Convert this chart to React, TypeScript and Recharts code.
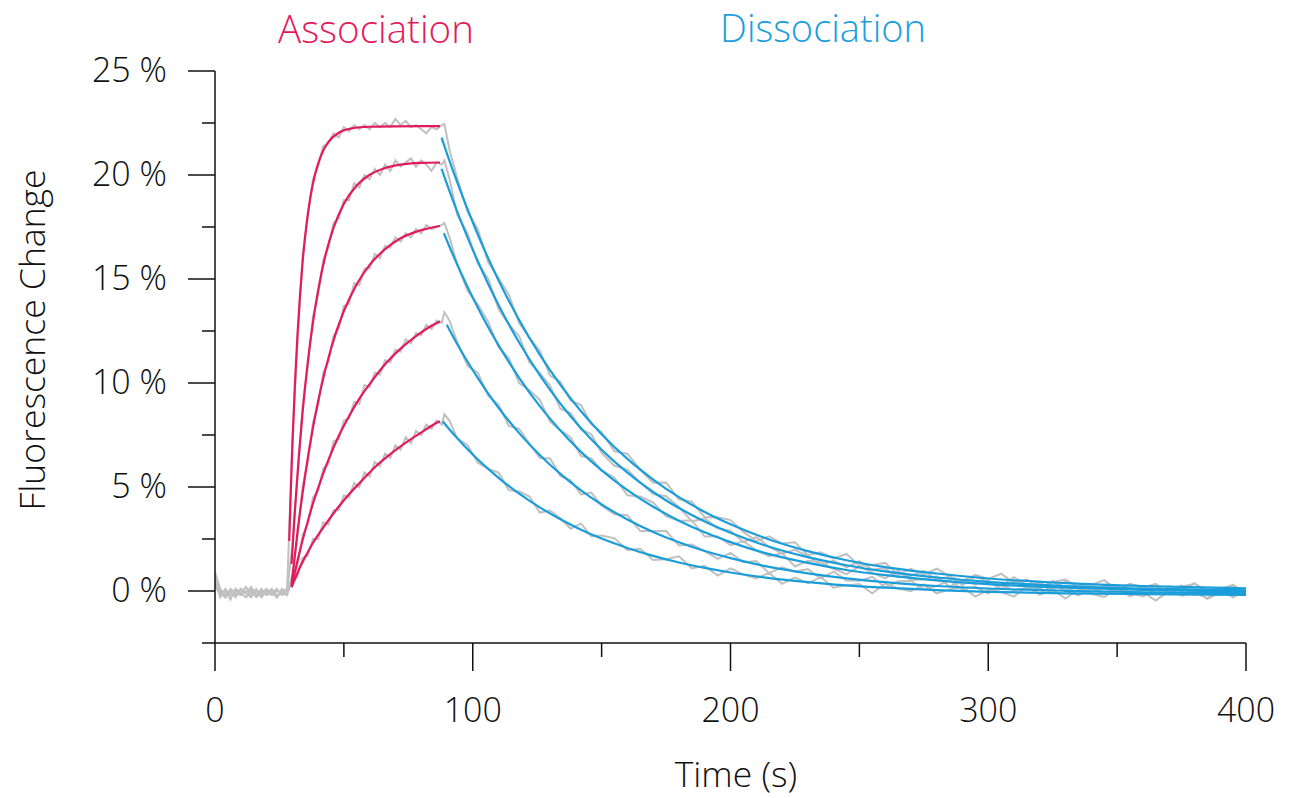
import React from 'react'
import { LineChart, Line, XAxis, YAxis } from 'recharts'

// axis ticks
const xTicks = [0, 50, 100, 150, 200, 250, 300, 350, 400]
const yTicks = [-2.5, 0, 2.5, 5, 7.5, 10, 12.5, 15, 17.5, 20, 22.5, 25]

// fitted association curves [time s, fluorescence %]
const assoc1 = [[28.8, 2.4], [29.4, 4.81], [30, 6.93], [31, 9.92], [32, 12.32], [33, 14.26], [34, 15.83], [35.5, 17.63], [37, 18.93], [39, 20.12], [41, 20.9], [44, 21.59], [48, 22.03], [53, 22.24], [60, 22.32], [70, 22.34], [87.3, 22.35]]
const assoc2 = [[29.7, 1.3], [31, 3.89], [32.5, 6.44], [34, 8.61], [36, 11.0], [38, 12.91], [40, 14.45], [43, 16.21], [46, 17.47], [50, 18.62], [55, 19.5], [60, 20.01], [66, 20.34], [72, 20.5], [80, 20.58], [87.3, 20.6]]
const assoc3 = [[29.7, 0.3], [32, 2.83], [35, 5.59], [38, 7.85], [41, 9.7], [45, 11.65], [50, 13.46], [55, 14.75], [60, 15.68], [66, 16.44], [72, 16.96], [80, 17.35], [87.3, 17.55]]
const assoc4 = [[29.7, 0.2], [32, 1.45], [34, 2.45], [36, 3.35], [38, 4.2], [40, 4.95], [44, 6.3], [48, 7.45], [52, 8.4], [56, 9.25], [60, 9.95], [66, 10.9], [72, 11.65], [78, 12.25], [84, 12.75], [87.3, 12.96]]
const assoc5 = [[29.7, 0.18], [33, 1.15], [35.5, 1.75], [38.1, 2.33], [42, 3.05], [47.2, 3.93], [52, 4.65], [57.5, 5.37], [62, 5.95], [67.9, 6.57], [72, 6.95], [76.9, 7.37], [81, 7.7], [86.6, 8.12], [87.3, 8.16]]

// fitted dissociation curves
const dissoc1 = [[87.9, 21.8], [90, 21.03], [94, 19.64], [98, 18.34], [102, 17.13], [106, 16.0], [110, 14.94], [118, 13.03], [126, 11.36], [134, 9.91], [142, 8.64], [150, 7.54], [160, 6.35], [170, 5.36], [180, 4.51], [190, 3.8], [200, 3.21], [215, 2.48], [230, 1.92], [245, 1.48], [260, 1.15], [280, 0.84], [300, 0.6], [330, 0.38], [360, 0.24], [400, 0.13]]
const dissoc2 = [[87.9, 20.3], [90, 19.56], [94, 18.23], [98, 16.99], [102, 15.84], [106, 14.76], [110, 13.75], [118, 11.95], [126, 10.38], [134, 9.01], [142, 7.82], [150, 6.79], [160, 5.69], [170, 4.76], [180, 3.99], [190, 3.34], [200, 2.8], [215, 2.13], [230, 1.63], [245, 1.24], [260, 0.94], [280, 0.65], [300, 0.44], [330, 0.24], [360, 0.12], [400, 0.03]]
const dissoc3 = [[88.8, 17.2], [90, 16.84], [94, 15.69], [98, 14.62], [102, 13.62], [106, 12.68], [110, 11.82], [118, 10.25], [126, 8.89], [134, 7.72], [142, 6.69], [150, 5.8], [160, 4.85], [170, 4.05], [180, 3.38], [190, 2.82], [200, 2.35], [215, 1.77], [230, 1.35], [245, 1.01], [260, 0.76], [280, 0.51], [300, 0.33], [330, 0.16], [360, 0.05], [400, -0.03]]
const dissoc4 = [[89.9, 12.8], [94, 11.86], [98, 11.02], [102, 10.23], [106, 9.49], [110, 8.81], [118, 7.59], [126, 6.54], [134, 5.63], [142, 4.84], [150, 4.16], [160, 3.44], [170, 2.84], [180, 2.34], [190, 1.92], [200, 1.58], [215, 1.16], [230, 0.85], [245, 0.61], [260, 0.43], [280, 0.24], [300, 0.12], [330, 0.01], [360, -0.06], [400, -0.11]]
const dissoc5 = [[88.4, 8.15], [90, 7.91], [94, 7.34], [98, 6.81], [102, 6.32], [106, 5.87], [110, 5.44], [118, 4.68], [126, 4.02], [134, 3.45], [142, 2.95], [150, 2.52], [160, 2.07], [170, 1.69], [180, 1.37], [190, 1.11], [200, 0.89], [215, 0.62], [230, 0.43], [245, 0.27], [260, 0.16], [280, 0.04], [300, -0.04], [330, -0.11], [360, -0.15], [400, -0.19]]

// raw measured traces (grey), sampled at these times
const rawTimes = [
  0, 2, 4, 6, 8, 10, 12, 14, 16, 18, 20, 22, 24, 26, 28,
  30, 32, 34, 36, 38, 40, 42, 44, 46, 48, 50, 52, 54, 56, 58, 60, 62, 64, 66, 68, 70, 72, 74, 76, 78, 80, 82, 84, 86, 88,
  89, 91, 94, 98, 102, 106, 110, 114, 118, 122, 126, 130, 134, 138, 142, 146, 150,
  155, 160, 165, 170, 175, 180, 185, 190, 195, 200, 205, 210, 215, 220, 225, 230, 235, 240, 245, 250,
  255, 260, 265, 270, 275, 280, 285, 290, 295, 300, 305, 310, 315, 320, 325, 330, 335, 340, 345, 350,
  355, 360, 365, 370, 375, 380, 385, 390, 395, 400,
]
const raw1 = [
  0.9, 0.1, -0.2, 0.0, -0.3, 0.1, -0.1, 0.2, -0.2, 0.0, -0.1, 0.1, -0.3, 0.0, 0.1,
  7.2, 12.0, 16.1, 18.0, 19.8, 20.4, 21.4, 21.5, 22.0, 21.8, 22.3, 22.1, 22.4, 22.2, 22.4, 22.2, 22.5, 22.3, 22.5, 22.3, 22.7, 22.4, 22.6, 22.3, 22.4, 22.2, 22.0, 22.3, 22.2, 22.4,
  22.45, 21.2, 19.84, 18.24, 17.38, 15.8, 15.04, 14.25, 12.88, 12.17, 11.56, 10.36, 10.06, 9.15, 8.94, 8.02, 7.64,
  6.72, 6.6, 5.83, 5.21, 5.22, 4.41, 4.29, 3.55, 3.54, 3.41, 2.84, 2.4, 2.63, 2.28, 2.34, 1.72, 1.86, 1.57, 1.78, 1.21,
  1.25, 1.35, 0.8, 1.07, 0.79, 1.07, 0.7, 0.49, 0.78, 0.58, 0.83, 0.39, 0.55, 0.16, 0.43, 0.55, 0.17, 0.29, 0.52, 0.05,
  0.33, 0.16, 0.34, -0.13, 0.21, 0.35, 0.03, 0.12, 0.26, -0.1,
]
const raw2 = [
  0.5, -0.3, 0.1, -0.2, 0.0, -0.1, 0.2, -0.2, 0.1, -0.3, 0.0, -0.1, 0.1, -0.2, 0.0,
  2.2, 5.4, 8.9, 10.8, 13.2, 14.2, 15.9, 16.5, 17.7, 17.9, 18.8, 18.8, 19.6, 19.4, 20.0, 19.8, 20.3, 20.0, 20.5, 20.2, 20.7, 20.4, 20.6, 20.8, 20.4, 20.7, 20.5, 20.2, 20.6, 20.5,
  20.7, 19.8, 18.08, 17.19, 15.74, 15.01, 13.55, 12.82, 12.25, 10.99, 10.48, 9.87, 8.76, 8.55, 7.77, 7.54, 6.64,
  6.02, 5.84, 5.21, 4.66, 4.56, 4.04, 3.35, 3.49, 3.01, 2.9, 2.36, 2.59, 2.13, 1.8, 1.98, 1.68, 1.24, 1.46, 1.14, 1.43,
  1.03, 1.09, 0.66, 0.73, 0.96, 0.55, 0.69, 0.29, 0.69, 0.44, 0.25, 0.66, 0.28, 0.4, 0.07, 0.49, 0.22, 0.34, -0.13, 0.06,
  0.34, 0.17, -0.14, 0.24, -0.02, 0.37, -0.09, 0.05, 0.3, -0.17,
]
const raw3 = [
  0.3, 0.0, -0.3, 0.1, -0.1, -0.2, 0.0, 0.1, -0.3, -0.1, 0.1, -0.2, 0.0, -0.1, -0.2,
  0.8, 2.6, 5.0, 6.2, 8.1, 8.9, 10.5, 11.0, 12.3, 12.6, 13.7, 13.8, 14.8, 14.7, 15.5, 15.5, 16.2, 16.0, 16.6, 16.5, 17.0, 16.8, 17.2, 17.0, 17.4, 17.2, 17.6, 17.4, 17.5, 17.6,
  17.7, 17.0, 15.69, 14.42, 13.77, 12.93, 11.72, 11.2, 10.0, 9.65, 9.19, 8.14, 7.72, 7.38, 6.49, 6.38, 5.8,
  5.45, 4.6, 4.54, 4.25, 3.6, 3.38, 3.39, 2.62, 2.63, 2.2, 2.39, 1.95, 1.67, 1.82, 1.18, 1.45, 1.38, 1.07, 0.81, 1.17,
  0.89, 0.61, 0.99, 0.52, 0.56, 0.71, 0.21, 0.51, 0.32, 0.48, 0.09, 0.51, 0.23, 0.1, 0.48, 0.01, 0.19, -0.09, 0.24, 0.18,
  -0.19, 0.05, 0.24, -0.07, 0.27, -0.19, 0.0, 0.14, -0.32, 0.07,
]
const raw4 = [
  0.6, -0.2, 0.0, -0.4, 0.1, -0.1, -0.3, 0.0, -0.2, 0.1, -0.2, -0.1, -0.3, 0.1, -0.1,
  0.5, 1.2, 2.7, 3.2, 4.5, 4.8, 5.9, 6.1, 7.2, 7.3, 8.2, 8.3, 9.1, 9.0, 9.9, 9.8, 10.5, 10.4, 11.1, 11.0, 11.6, 11.5, 12.1, 11.9, 12.4, 12.3, 12.8, 12.6, 13.0, 12.9,
  13.4, 12.99, 11.96, 10.82, 10.48, 9.39, 8.96, 7.94, 7.79, 7.09, 6.39, 6.37, 5.53, 5.32, 4.64, 4.73, 4.11,
  3.69, 3.64, 2.88, 2.89, 2.88, 2.19, 2.23, 1.92, 1.54, 1.83, 1.38, 1.44, 0.86, 1.14, 0.94, 1.05, 0.61, 0.93, 0.51, 0.49,
  0.68, 0.18, 0.47, 0.48, 0.09, 0.24, 0.51, 0.08, 0.2, -0.13, 0.3, 0.03, 0.16, -0.11, 0.27, 0.01, -0.21, 0.13, -0.13, 0.26,
  -0.1, -0.26, 0.03, 0.13, -0.23, -0.09, -0.34, 0.05, -0.05, -0.21,
]
const raw5 = [
  0.2, -0.1, -0.3, 0.0, -0.2, 0.1, -0.1, -0.3, 0.0, -0.2, -0.1, 0.0, -0.2, -0.1, 0.0,
  0.4, 0.7, 1.6, 1.7, 2.5, 2.5, 3.3, 3.2, 3.9, 3.9, 4.6, 4.5, 5.2, 5.0, 5.7, 5.5, 6.2, 6.0, 6.6, 6.4, 7.0, 6.8, 7.4, 7.1, 7.7, 7.5, 8.0, 7.8, 8.2, 8.0,
  8.5, 8.18, 7.34, 7.01, 6.17, 5.87, 5.69, 4.85, 4.78, 4.54, 3.77, 3.87, 3.5, 2.99, 3.25, 2.63, 2.67,
  2.53, 1.97, 2.03, 1.49, 1.53, 1.67, 1.09, 1.21, 0.74, 1.09, 0.8, 0.6, 0.87, 0.35, 0.64, 0.38, 0.67, 0.16, 0.27, 0.33,
  -0.11, 0.36, 0.12, -0.01, 0.32, -0.11, 0.07, 0.2, -0.27, 0.06, -0.05, -0.27, 0.22, -0.19, 0.05, -0.36, 0.08, -0.13, -0.29, 0.11,
  -0.25, -0.05, -0.46, -0.01, -0.17, 0.03, -0.38, -0.08, -0.23, 0.06,
]

const RED = '#E31B5C'
const BLUE = '#1A9EDB'
const GREY = '#C0C0C0'
const FONT = "'Open Sans', 'DejaVu Sans', sans-serif"

const toPoints = (pairs: number[][]) => pairs.map(([t, v]) => ({ t, v }))
const toRaw = (vals: number[]) => rawTimes.map((t, i) => ({ t, v: vals[i] }))

const rawSeries = [raw1, raw2, raw3, raw4, raw5].map(toRaw)
const assocSeries = [assoc1, assoc2, assoc3, assoc4, assoc5].map(toPoints)
const dissocSeries = [dissoc1, dissoc2, dissoc3, dissoc4, dissoc5].map(toPoints)

const YTick = (props: any) => {
  const { x, y, payload } = props
  const v = payload.value
  const major = Math.abs(v % 5) < 1e-6
  return (
    <g>
      <line x1={x - (major ? 27 : 13)} y1={y} x2={x} y2={y} stroke="#111" strokeWidth={1.5} />
      {major && (
        <text x={x - 48} y={y + 11} textAnchor="end" fontFamily={FONT} fontWeight={300} fontSize={34} fill="#111">
          {`${v} %`}
        </text>
      )}
    </g>
  )
}

const XTick = (props: any) => {
  const { x, y, payload } = props
  const v = payload.value
  const major = v % 100 === 0
  return (
    <g>
      <line x1={x} y1={y} x2={x} y2={y + (major ? 28 : 14)} stroke="#111" strokeWidth={1.5} />
      {major && (
        <text x={x} y={y + 79} textAnchor="middle" fontFamily={FONT} fontWeight={300} fontSize={34} fill="#111">
          {v}
        </text>
      )}
    </g>
  )
}

export default function App() {
  return (
    <div style={{ position: 'absolute', left: 0, top: 0, width: 1292, height: 798, background: '#fff' }}>
      <LineChart width={1292} height={798} margin={{ top: 71, right: 46, bottom: 75, left: 135 }}>
        <XAxis
          dataKey="t"
          type="number"
          domain={[0, 400]}
          ticks={xTicks}
          allowDataOverflow
          height={80}
          tickSize={0}
          tickMargin={0}
          tickLine={false}
          axisLine={{ stroke: '#111', strokeWidth: 1.5 }}
          tick={<XTick />}
        />
        <YAxis
          type="number"
          domain={[-2.5, 25]}
          ticks={yTicks}
          allowDataOverflow
          width={80}
          tickSize={0}
          tickMargin={0}
          tickLine={false}
          axisLine={{ stroke: '#111', strokeWidth: 1.5 }}
          tick={<YTick />}
        />
        {rawSeries.map((d, i) => (
          <Line key={`raw${i}`} data={d} dataKey="v" type="linear" stroke={GREY} strokeWidth={2}
            dot={false} activeDot={false} isAnimationActive={false} />
        ))}
        {assocSeries.map((d, i) => (
          <Line key={`as${i}`} data={d} dataKey="v" type="monotone" stroke={RED} strokeWidth={2.2}
            dot={false} activeDot={false} isAnimationActive={false} />
        ))}
        {dissocSeries.map((d, i) => (
          <Line key={`ds${i}`} data={d} dataKey="v" type="monotone" stroke={BLUE} strokeWidth={2.2}
            dot={false} activeDot={false} isAnimationActive={false} />
        ))}
      </LineChart>
      <svg width={1292} height={798} style={{ position: 'absolute', left: 0, top: 0, pointerEvents: 'none' }}>
        <text x={376} y={43} textAnchor="middle" fontFamily={FONT} fontWeight={300} fontSize={38.5} fill={RED}>Association</text>
        <text x={823} y={42} textAnchor="middle" fontFamily={FONT} fontWeight={300} fontSize={38} fill={BLUE}>Dissociation</text>
        <text x={736} y={787} textAnchor="middle" fontFamily={FONT} fontWeight={300} fontSize={35.5} fill="#111">Time (s)</text>
        <text x={45} y={340} textAnchor="middle" fontFamily={FONT} fontWeight={300} fontSize={35.5} fill="#111"
          transform="rotate(-90 45 340)">Fluorescence Change</text>
      </svg>
    </div>
  )
}
